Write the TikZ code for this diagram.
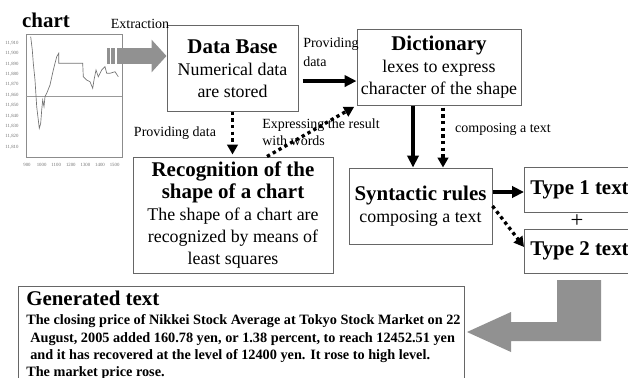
\documentclass[tikz,border=0pt]{standalone}
\usepackage{fontspec}
\setmainfont{Liberation Serif}
\usetikzlibrary{arrows.meta}

\newcommand{\hd}{\fontsize{15.7}{16.5}\selectfont\bfseries}

\tikzset{
  box/.style={draw=black!60, line width=0.75pt, align=center, inner sep=2pt,
    font=\fontsize{13.4}{16.5}\selectfont},
  lbl/.style={inner sep=0pt, font=\fontsize{10.5}{13}\selectfont},
  tick/.style={inner sep=0pt, text=black!55, font=\fontsize{3.6}{4}\selectfont},
  solidarr/.style={line width=2.4pt, -{Triangle[length=9pt,width=8.5pt]}},
  dotarr/.style={line width=2.5pt, dash pattern=on 2.5pt off 2.5pt,
    -{Triangle[length=7.5pt,width=8pt]}},
  bigarr/.style={black!43, line width=12pt, -{Triangle[length=11.25pt,width=24pt]}},
}

\begin{document}
\begin{tikzpicture}[x=0.75pt,y=-0.75pt]
    \useasboundingbox (0,0) rectangle (628,378);

    % chart
    \node[font=\hd, inner sep=0pt] (charttitle) at (46,20) {chart};
    \node[draw=black!45, line width=0.6pt, minimum width=72pt, minimum height=92.25pt] (chart) at (74,96) {};
    \foreach \v [count=\i from 0] in {910,900,890,880,870,860,850,840,830,820,810}
      \node[tick] at (12,43+\i*10.4) {11,\v};
    \foreach \t [count=\i from 0] in {900,1000,1100,1200,1300,1400,1500}
      \node[tick] at (27+\i*14.6,165) {\t};
    \draw[black!40, line width=0.4pt] (chart.west |- 0,96) -- (chart.east |- 0,96);
    \draw[black!55, line width=0.5pt] (30.7,36.7) -- (32.3,50) -- (33.3,63.3) -- (35,80)
      -- (36.7,106.7) -- (38.3,120) -- (39.3,128.3) -- (40.7,123.3) -- (41.7,110)
      -- (42.7,100) -- (44,106.7) -- (45,96.7) -- (46.7,93.3) -- (50,85) -- (53.3,70)
      -- (56.7,56.7) -- (58.7,53.3) -- (58.7,63.3) -- (82.7,63.3) -- (83.3,76.7)
      -- (86.7,80) -- (90,81.7) -- (92.7,88.3) -- (94,80) -- (96,70) -- (98.3,76.7)
      -- (100,73.3) -- (101.7,70) -- (105,66.7) -- (106.7,73.3) -- (110,73.3)
      -- (115,71.7) -- (118.3,76.7);

    % boxes
    \node[box, minimum width=98.25pt, minimum height=63.75pt] (db) at (232.5,68.5)
      {{\hd Data Base}\\Numerical data\\are stored};
    \node[box, minimum width=123pt, minimum height=56.25pt] (dict) at (439,67.5)
      {{\hd Dictionary}\\lexes to express\\character of the shape};
    \node[box, minimum width=150pt, minimum height=87pt] (rec) at (233,215)
      {{\hd Recognition of the}\\{\hd shape of a chart}\\The shape of a chart are\\recognized by means of\\least squares};
    \node[box, minimum width=107.25pt, minimum height=57pt] (syn) at (420.5,206)
      {{\hd Syntactic rules}\\composing a text};
    \node[box, font=\hd, minimum width=82.5pt, minimum height=33.75pt, anchor=west] (t1) at (524,189.5) {Type 1 text};
    \node[box, font=\hd, minimum width=82.5pt, minimum height=33pt, anchor=west] (t2) at (524,251) {Type 2 text};
    \node[inner sep=0pt, font=\fontsize{17}{17}\selectfont] (plus) at (577,221) {+};

    % generated text
    \node[draw=black!60, line width=0.75pt, minimum width=334.5pt, minimum height=90pt, anchor=north west] (genbox) at (18,286) {};
    \node[anchor=north west, align=left, inner sep=0pt, font=\fontsize{10.7}{12.9}\selectfont\bfseries] (gentext) at (26,291)
      {{\hd Generated text}\\[1.5pt]
       The closing price of Nikkei Stock Average at Tokyo Stock Market on 22\\
       \hspace*{3pt}August, 2005 added 160.78 yen, or 1.38 percent, to reach 12452.51 yen\\
       \hspace*{3pt}and it has recovered at the level of 12400 yen. It rose to high level.\\
       The market price rose.};

    % big gray arrows
    \coordinate (exsrc) at (117,56);
    \fill[black!43] (106.5,48) rectangle (109.5,64);
    \fill[black!43] (111,48) rectangle (115,64);
    \draw[bigarr] (exsrc) -- (exsrc -| db.west);
    \fill[black!43] (557,280) -- (601,280) -- (601,341) -- (511,341) -- (511,352)
      -- (467,332) -- (511,312) -- (511,322) -- (557,322) -- cycle;

    % connectors
    \coordinate (dbout) at ([yshift=-9.4pt]db.east);
    \draw[solidarr, shorten <=3pt] (dbout) -- (dbout -| dict.west);
    \draw[dotarr, shorten >=1.5pt] (db.south) -- (db.south |- rec.north);
    \coordinate (recout) at ([xshift=25.5pt]rec.north);
    \draw[dotarr, shorten >=2pt] (recout) -- (dict.south west);
    \coordinate (dcs) at ([xshift=-19.5pt]dict.south);
    \draw[solidarr] (dcs) -- (dcs |- syn.north);
    \coordinate (dcd) at ([xshift=3pt]dict.south);
    \draw[dotarr, shorten <=1.5pt] (dcd) -- (dcd |- syn.north);
    \coordinate (sy1) at ([yshift=10.5pt]syn.east);
    \draw[solidarr] (sy1) -- (sy1 -| t1.west);
    \draw[dotarr] (syn.east) -- ([yshift=3pt]t2.west);

    % labels
    \node[lbl] (extr) at (140,24) {Extraction};
    \node[lbl, align=left, anchor=west, font=\fontsize{10.5}{14}\selectfont] (prov1) at (303,52.5) {Providing\\data};
    \node[lbl] (prov2) at (175,133) {Providing data};
    \node[lbl, align=left, anchor=west, font=\fontsize{10.5}{12.75}\selectfont] (expr) at (262,132.5) {Expressing the result\\with words};
    \node[lbl] (comp) at (503,129) {composing a text};
  \end{tikzpicture}
\end{document}
